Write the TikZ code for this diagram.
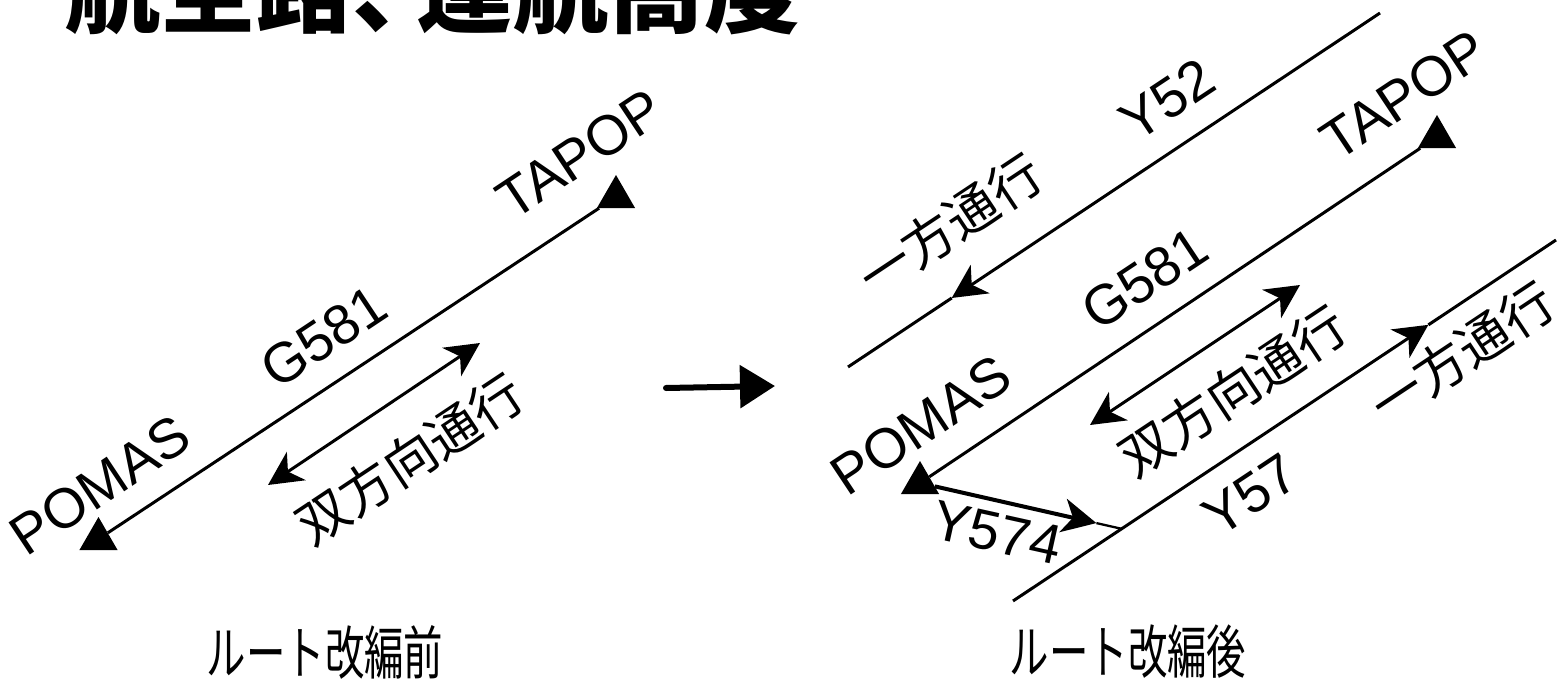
\documentclass[tikz,border=0pt]{standalone}
\usepackage{fontspec}
\setmainfont{Liberation Sans}
\newfontfamily\cjk{Noto Sans CJK JP}
\usetikzlibrary{arrows.meta,shapes.geometric,calc}
\begin{document}
\begin{tikzpicture}[x=1pt,y=-1pt,
  road/.style={line width=3pt},
  wpt/.style={regular polygon,regular polygon sides=3,fill=black,inner sep=0pt,minimum size=44pt},
  lbl/.style={font=\fontsize{56}{56}\selectfont,rotate=33.6,inner sep=0pt},
  jlbl/.style={font=\cjk\fontsize{52}{52}\selectfont,rotate=33.6,inner sep=0pt},
  captext/.style={font=\cjk\fontsize{58}{58}\selectfont,inner sep=0pt},
  tip/.style={-{Stealth[length=34pt,width=34pt,inset=10pt]}},
  dtip/.style={{Stealth[length=34pt,width=34pt,inset=10pt]}-{Stealth[length=34pt,width=34pt,inset=10pt]}}
]
\useasboundingbox (0,0) rectangle (1558,680);
\clip (0,0) rectangle (1558,680);

% title (cut at top)
\node[font=\cjk\bfseries\fontsize{96}{96}\selectfont,anchor=base west,inner sep=0pt] (title) at (64,25) {航空路、\kern-0.33em運航高度};

% ---------- left: before ----------
\node[wpt] (pomasL) at (98.5,539) {};
\node[wpt] (tapopL) at (616,197) {};
\draw[road] (pomasL) -- (tapopL);
\coordinate (dl1) at (268,485);
\coordinate (dl2) at (480,343);
\draw[road,dtip] (dl1) -- (dl2);
\node[lbl] (tPomasL) at (100,485) {POMAS};
\node[lbl] (tG581L) at (324,337) {G581};
\node[lbl] (tTapopL) at (580,154) {TAPOP};
\node[jlbl] (tBothL) at (410,459) {双方向通行};

% big arrow
\coordinate (ba1) at (666,388);
\coordinate (ba2) at (775,386);
\draw[line width=6pt,line cap=round,-{Triangle[length=35pt,width=42pt]}] (ba1) -- (ba2);

% ---------- right: after ----------
\node[wpt] (pomasR) at (920,483) {};
\node[wpt] (tapopR) at (1437,137) {};
\draw[road] (pomasR) -- (tapopR);
\coordinate (dr1) at (1090,425);
\coordinate (dr2) at (1300,285);
\draw[road,dtip] (dr1) -- (dr2);

% Y52
\coordinate (y52a) at (848,367);
\coordinate (y52b) at (1380,13);
\coordinate (y52m) at ($(y52a)!0.195!(y52b)$);
\draw[road,tip] (y52b) -- (y52m);
\draw[road] (y52m) -- (y52a);

% Y57
\coordinate (y57a) at (1013,601);
\coordinate (y57b) at (1556,240);
\coordinate (j) at ($(y57a)!0.2!(y57b)$);
\coordinate (y57m) at ($(y57a)!0.765!(y57b)$);
\draw[road,tip] (y57a) -- (y57m);
\draw[road] (y57m) -- (y57b);

% Y574
\coordinate (y574m) at ($(pomasR)!0.875!(j)$);
\draw[line width=4pt,tip] (pomasR) -- (y574m);
\draw[line width=2.3pt] (y574m) -- (j);

\node[lbl] (tPomasR) at (921,425) {POMAS};
\node[lbl] (tG581R) at (1145,279) {G581};
\node[lbl] (tTapopR) at (1404,95) {TAPOP};
\node[lbl] (tY52) at (1167,100) {Y52};
\node[lbl] (tY57) at (1250,495) {Y57};
\node[lbl,rotate=-46.1] (tY574) at (997,533) {Y574};
\node[jlbl] (tOneTop) at (950,225) {一方通行};
\node[jlbl] (tBothR) at (1233,391) {双方向通行};
\node[jlbl] (tOneR) at (1462,353) {一方通行};

% captions
\node[captext] (capL) at (325,652) {\scalebox{0.68}[1]{ルート改編前}};
\node[captext] (capR) at (1128,652) {\scalebox{0.68}[1]{ルート改編後}};
\end{tikzpicture}
\end{document}
